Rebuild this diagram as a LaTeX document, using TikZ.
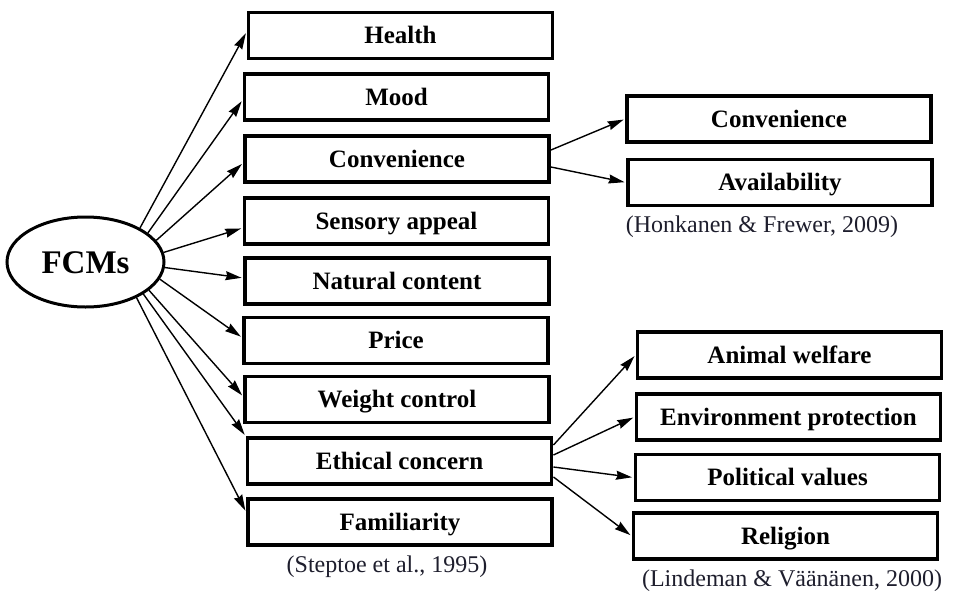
\documentclass[tikz,border=0pt]{standalone}
\usepackage{fontspec}
\setmainfont{Liberation Serif}
\usetikzlibrary{arrows.meta,shapes.geometric}
\definecolor{citeink}{RGB}{30,30,45}
\begin{document}
\begin{tikzpicture}[x=1pt,y=-1pt,
  factor/.style={draw,line width=3.9pt,minimum width=304pt,minimum height=46pt,
    inner sep=0pt,text height=16.5pt,text depth=0pt,
    font=\fontsize{25}{30}\selectfont\bfseries},
  hub/.style={draw,ellipse,line width=3pt,minimum width=157pt,minimum height=90pt,
    inner sep=0pt,text height=22pt,text depth=0pt,
    font=\fontsize{33}{38}\selectfont\bfseries},
  cite/.style={text=citeink,inner sep=0pt,font=\fontsize{24}{28}\selectfont},
  link/.style={line width=1.4pt,-{Stealth[length=16pt,width=9pt,inset=1.5pt]},shorten >=1.5pt}]
\useasboundingbox (0,0) rectangle (957,597);

% central concept
\node[hub] (fcm) at (85.5,262) {FCMs};

% food choice motives
\node[factor] (health)  at (400.5,35.5) {Health};
\node[factor] (mood)    at (396.5,97)   {Mood};
\node[factor] (conv)    at (397,159)    {Convenience};
\node[factor] (sensory) at (396.5,221)  {Sensory appeal};
\node[factor] (natural) at (397,281)    {Natural content};
\node[factor] (price)   at (396,340.5)  {Price};
\node[factor] (weight)  at (397,399.5)  {Weight control};
\node[factor] (ethic)   at (399.5,461)  {Ethical concern};
\node[factor] (famil)   at (400,522)    {Familiarity};
\node[cite] (steptoe) at (387,567) {(Steptoe et al., 1995)};

% convenience sub-factors
\node[factor] (conv2) at (779,119)   {Convenience};
\node[factor] (avail) at (780,182.5) {Availability};
\node[cite] (honk) at (762,227) {(Honkanen \& Frewer, 2009)};

% ethical sub-factors
\node[factor] (animal)  at (789.5,355)  {Animal welfare};
\node[factor] (environ) at (788.5,417)  {Environment protection};
\node[factor] (polit)   at (787.5,477.5){Political values};
\node[factor] (relig)   at (785.5,536)  {Religion};
\node[cite] (linde) at (792,581) {(Lindeman \& Väänänen, 2000)};

% FCMs to motives
\draw[link] (fcm.32)    -- ([yshift=3.5pt]health.west);
\draw[link] (fcm.25.5)  -- ([yshift=-3pt]mood.west);
\draw[link] (fcm.17)    -- ([yshift=-4pt]conv.west);
\draw[link] (fcm.7)     -- ([yshift=-7pt]sensory.west);
\draw[link] (fcm.-4)    -- ([yshift=3pt]natural.west);
\draw[link] (fcm.-13.5) -- ([yshift=3pt]price.west);
\draw[link] (fcm.-24.5) -- ([yshift=3pt]weight.west);
\draw[link] (fcm.-29.5) -- (ethic.north west);
\draw[link] (fcm.-35.6) -- ([yshift=10pt]famil.west);

% convenience branches
\draw[link] ([yshift=9pt]conv.east)  -- (conv2.west);
\draw[link] ([yshift=-8pt]conv.east) -- (avail.west);

% ethical concern branches
\draw[link] ([yshift=16pt]ethic.east)  -- (animal.west);
\draw[link] ([yshift=6pt]ethic.east)   -- (environ.west);
\draw[link] ([yshift=-6pt]ethic.east)  -- (polit.west);
\draw[link] ([yshift=-16pt]ethic.east) -- (relig.west);
\end{tikzpicture}
\end{document}
